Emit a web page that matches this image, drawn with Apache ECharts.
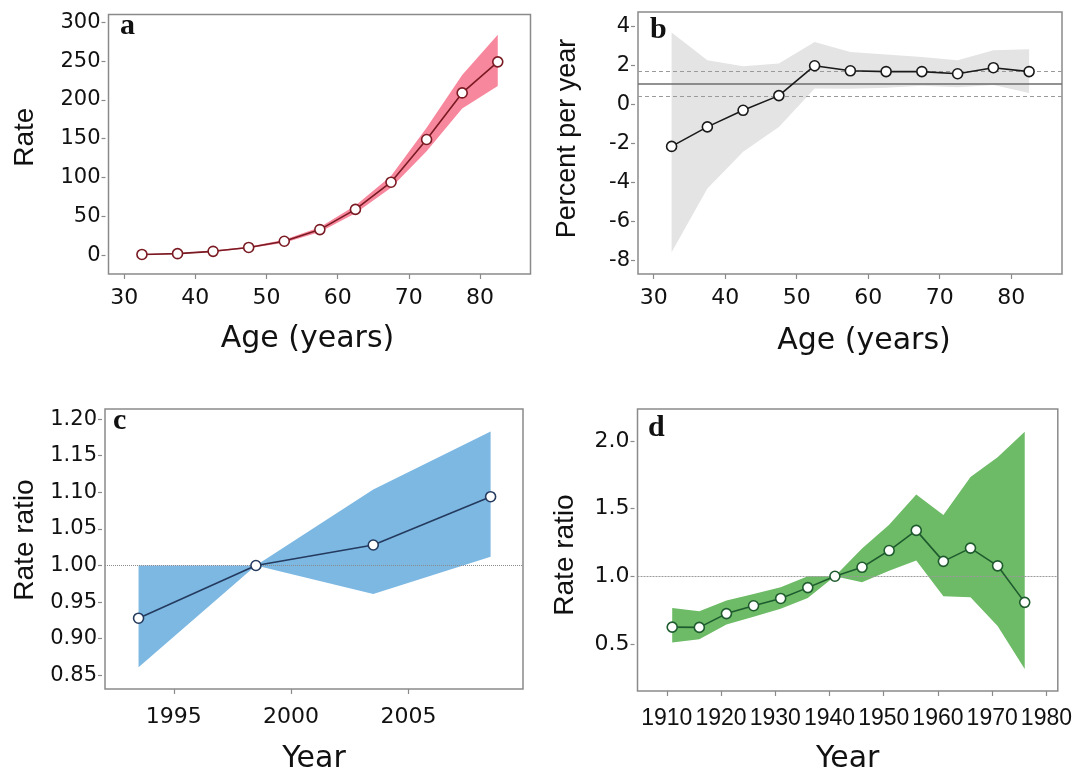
<!DOCTYPE html>
<html>
<head>
<meta charset="utf-8">
<script src="https://cdn.jsdelivr.net/npm/echarts@6/dist/echarts.min.js"></script>
<style>
html,body{margin:0;padding:0;background:#fff;}
#chart{width:1075px;height:775px;}
</style>
</head>
<body>
<div id="chart"></div>
<script>
// Panel a: incidence rate by age
const ageX = [32.5, 37.5, 42.5, 47.5, 52.5, 57.5, 62.5, 67.5, 72.5, 77.5, 82.5];
const aRate = [1, 2, 5, 10, 18, 33, 59, 94, 149, 209, 249];
const aLower = [0.5, 1.5, 4, 9, 16, 30, 54, 87, 134, 189, 218];
const aUpper = [1.5, 2.5, 6, 11, 20, 36, 64, 102, 164, 232, 284];
const aTicksX = [30, 40, 50, 60, 70, 80];
const aTicksY = [0, 50, 100, 150, 200, 250, 300];

// Panel b: percent per year by age
const bPct = [-2.15, -1.15, -0.3, 0.45, 1.98, 1.72, 1.68, 1.68, 1.57, 1.88, 1.68];
const bLower = [-7.57, -4.3, -2.42, -1.15, 0.81, 0.8, 0.85, 0.95, 0.88, 1.0, 0.59];
const bUpper = [3.68, 2.26, 1.95, 2.1, 3.2, 2.68, 2.55, 2.43, 2.26, 2.77, 2.82];
const bRefSolid = 1.07;
const bRefDashed = [1.72, 0.4];
const bTicksY = [-8, -6, -4, -2, 0, 2, 4];

// Panel c: period rate ratio
const cYear = [1993.5, 1998.5, 2003.5, 2008.5];
const cRR = [0.928, 1.0, 1.028, 1.094];
const cLower = [0.861, 1.0, 0.961, 1.012];
const cUpper = [1.0, 1.0, 1.104, 1.183];
const cTicksX = [1995, 2000, 2005];
const cTicksY = [0.85, 0.90, 0.95, 1.00, 1.05, 1.10, 1.15, 1.20];

// Panel d: cohort rate ratio
const dYear = [1911, 1916, 1921, 1926, 1931, 1936, 1941, 1946, 1951, 1956, 1961, 1966, 1971, 1976];
const dRR = [0.624, 0.622, 0.724, 0.782, 0.836, 0.916, 1.0, 1.066, 1.19, 1.339, 1.11, 1.208, 1.077, 0.807];
const dLower = [0.51, 0.534, 0.643, 0.70, 0.76, 0.84, 1.0, 0.955, 1.04, 1.117, 0.853, 0.845, 0.632, 0.315];
const dUpper = [0.765, 0.741, 0.821, 0.869, 0.918, 1.0, 1.0, 1.205, 1.38, 1.604, 1.453, 1.733, 1.879, 2.068];
const dTicksX = [1910, 1920, 1930, 1940, 1950, 1960, 1970, 1980];
const dTicksY = [0.5, 1.0, 1.5, 2.0];

const panelLetters = ['a', 'b', 'c', 'd'];

const chart = echarts.init(document.getElementById('chart'), null, {renderer: 'canvas'});

const tickFont = 'DejaVu Sans';
const boxColor = '#8a8a8a';

function xAxisCfg(idx, min, max, ticks, name, fmt, font, size, nameGap, namePad, margin) {
  return {
    type: 'value', gridIndex: idx, min: min, max: max,
    name: name, nameLocation: 'middle', nameGap: nameGap,
    nameTextStyle: {fontFamily: 'DejaVu Sans', fontSize: 30, color: '#111', padding: namePad},
    axisLine: {show: false, onZero: false},
    axisTick: {show: true, length: 5, inside: false, customValues: ticks, lineStyle: {color: boxColor, width: 1.2}},
    axisLabel: {show: true, margin: margin, customValues: ticks, showMinLabel: true, showMaxLabel: true,
      fontFamily: font, fontSize: size, color: '#111', formatter: fmt},
    splitLine: {show: false}
  };
}
function yAxisCfg(idx, min, max, ticks, name, fmt, size, nameGap, namePad, nameSize) {
  return {
    type: 'value', gridIndex: idx, min: min, max: max, offset: 3,
    name: name, nameLocation: 'middle', nameGap: nameGap,
    nameTextStyle: {fontFamily: 'Liberation Sans', fontSize: nameSize, color: '#111', padding: namePad},
    axisLine: {show: false, onZero: false},
    axisTick: {show: true, length: 4, customValues: ticks, lineStyle: {color: boxColor, width: 1.2}},
    axisLabel: {show: true, margin: 5, customValues: ticks, showMinLabel: true, showMaxLabel: true,
      fontFamily: tickFont, fontSize: size, color: '#111', formatter: fmt},
    splitLine: {show: false}
  };
}

function band(idx, xs, lo, hi, color) {
  return {
    type: 'custom', xAxisIndex: idx, yAxisIndex: idx, silent: true, z: 1, clip: true,
    data: xs.map((x, i) => [x, lo[i], hi[i]]),
    encode: {x: 0, y: [1, 2]},
    renderItem: function (params, api) {
      if (params.dataIndex !== 0) return null;
      const pts = [];
      for (let i = 0; i < xs.length; i++) pts.push(api.coord([xs[i], hi[i]]));
      for (let i = xs.length - 1; i >= 0; i--) pts.push(api.coord([xs[i], lo[i]]));
      return {type: 'polygon', shape: {points: pts}, style: {fill: color, stroke: null}};
    }
  };
}

function line(idx, xs, ys, color, markLines) {
  const s = {
    type: 'line', xAxisIndex: idx, yAxisIndex: idx, z: 5,
    data: xs.map((x, i) => [x, ys[i]]),
    symbol: 'circle', symbolSize: 10,
    lineStyle: {color: color, width: 1.6},
    itemStyle: {color: '#fff', borderColor: color, borderWidth: 1.6},
    emphasis: {disabled: true},
    animation: false
  };
  if (markLines) {
    s.markLine = {silent: true, symbol: 'none', label: {show: false}, animation: false, data: markLines};
  }
  return s;
}

const f0 = v => String(v);
const f2 = v => v.toFixed(2);
const f1 = v => v.toFixed(1);
const letterStyle = {fontFamily: 'Liberation Serif', fontWeight: 'bold', fontSize: 30, color: '#111'};

const option = {
  animation: false,
  backgroundColor: '#fff',
  title: [
    {text: panelLetters[0], left: 120, top: 11, padding: 0, textStyle: letterStyle},
    {text: panelLetters[1], left: 650, top: 15, padding: 0, textStyle: letterStyle},
    {text: panelLetters[2], left: 113, top: 406, padding: 0, textStyle: letterStyle},
    {text: panelLetters[3], left: 648, top: 413, padding: 0, textStyle: letterStyle}
  ],
  grid: [
    {left: 108.5, top: 14.5, width: 422, height: 259.5, show: true, borderColor: boxColor, borderWidth: 1.5, backgroundColor: 'transparent'},
    {left: 638, top: 12, width: 424, height: 262, show: true, borderColor: boxColor, borderWidth: 1.5, backgroundColor: 'transparent'},
    {left: 105, top: 409, width: 418, height: 286, show: true, borderColor: boxColor, borderWidth: 1.5, backgroundColor: 'transparent'},
    {left: 637.5, top: 409, width: 421, height: 286, show: true, borderColor: boxColor, borderWidth: 1.5, backgroundColor: 'transparent'}
  ],
  xAxis: [
    xAxisCfg(0, 27.8, 87.1, aTicksX, 'Age (years)', f0, tickFont, 22, 50, [0, 24, 0, 0], 13),
    xAxisCfg(1, 27.8, 87.1, aTicksX, 'Age (years)', f0, tickFont, 22, 52, [0, 0, 0, 28], 13),
    xAxisCfg(2, 1992.07, 2009.88, cTicksX, 'Year', f0, tickFont, 22, 55, 0, 17),
    xAxisCfg(3, 1904.6, 1982.1, dTicksX, 'Year', f0, 'Liberation Sans', 23, 53, 0, 16)
  ],
  yAxis: [
    yAxisCfg(0, -24.2, 310, aTicksY, 'Rate', f0, 21, 66, [0, 0, 0, 14], 28),
    yAxisCfg(1, -8.68, 4.73, bTicksY, 'Percent per year', f0, 21, 54, [0, 0, 0, 9], 27),
    yAxisCfg(2, 0.8313, 1.2138, cTicksY, 'Rate ratio', f2, 21, 63, [0, 0, 0, 18], 28),
    yAxisCfg(3, 0.152, 2.236, dTicksY, 'Rate ratio', f1, 22, 55, [0, 10, 0, 0], 28)
  ],
  series: [
    band(0, ageX, aLower, aUpper, '#f7879d'),
    line(0, ageX, aRate, '#7a1a22'),
    band(1, ageX, bLower, bUpper, '#e4e4e4'),
    line(1, ageX, bPct, '#1a1a1a', [
      {yAxis: bRefSolid, lineStyle: {color: '#6e6e6e', width: 1.5, type: 'solid'}},
      {yAxis: bRefDashed[0], lineStyle: {color: '#9a9a9a', width: 1.2, type: [4, 3]}},
      {yAxis: bRefDashed[1], lineStyle: {color: '#9a9a9a', width: 1.2, type: [4, 3]}}
    ]),
    band(2, cYear, cLower, cUpper, '#7db8e2'),
    line(2, cYear, cRR, '#243a5e', [
      {yAxis: 1.0, lineStyle: {color: '#8c8c8c', width: 1, type: [1, 1]}}
    ]),
    band(3, dYear, dLower, dUpper, '#6dbb66'),
    line(3, dYear, dRR, '#1e5b2e', [
      {yAxis: 1.0, lineStyle: {color: '#9a9a9a', width: 1.2, type: [2, 1]}}
    ])
  ]
};
chart.setOption(option);
</script>
</body>
</html>
